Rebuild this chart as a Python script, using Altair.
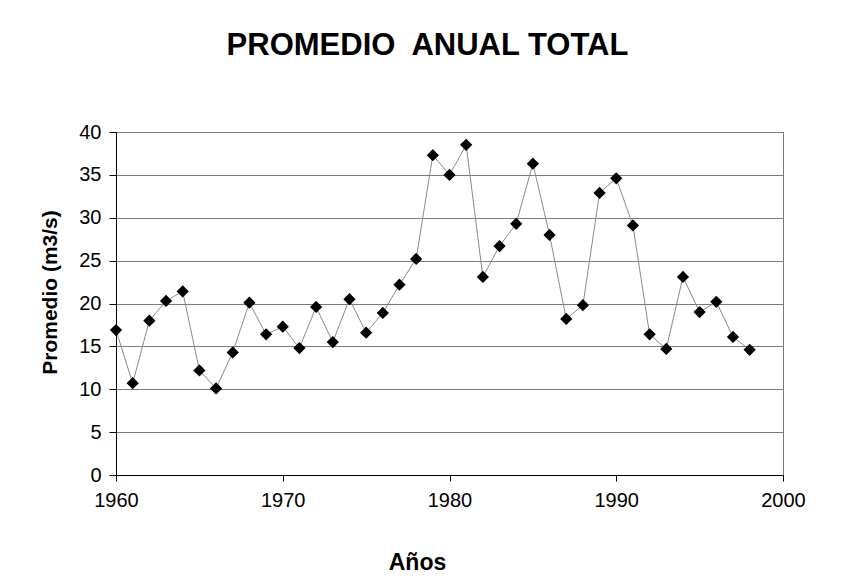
import altair as alt
import pandas as pd

years = list(range(1960, 1999))
promedio = [16.9, 10.7, 18.0, 20.3, 21.4, 12.2, 10.1, 14.3, 20.1, 16.4,
            17.3, 14.8, 19.6, 15.5, 20.5, 16.6, 18.9, 22.2, 25.2, 37.3,
            35.0, 38.5, 23.1, 26.7, 29.3, 36.3, 28.0, 18.2, 19.8, 32.9,
            34.6, 29.1, 16.4, 14.7, 23.1, 19.0, 20.2, 16.1, 14.6]
x_ticks = [1960, 1970, 1980, 1990, 2000]
y_ticks = [0, 5, 10, 15, 20, 25, 30, 35, 40]

df = pd.DataFrame({"Año": years, "Promedio": promedio})

FONT = "Liberation Sans"

x = alt.X("Año:Q",
          scale=alt.Scale(domain=[1960, 2000], nice=False, zero=False),
          axis=alt.Axis(values=x_ticks, format="d", title="Años",
                        grid=False, tickSize=6, labelPadding=9,
                        labelFlush=False, labelFontSize=20,
                        titleFontSize=23, titleBaseline="alphabetic",
                        titleX=301, titleY=94, titleAnchor="middle"))
y = alt.Y("Promedio:Q",
          scale=alt.Scale(domain=[0, 40], nice=False),
          axis=alt.Axis(values=y_ticks, title="Promedio (m3/s)",
                        tickSize=7, labelPadding=8, labelFontSize=20,
                        titleFontSize=21,
                        titleX=-56, titleY=160, titleAnchor="middle",
                        gridColor="#7a7a7a", gridWidth=1))

base = alt.Chart(df)
line = base.mark_line(color="#8a8a8a", strokeWidth=1).encode(x=x, y=y)
pts = base.mark_point(shape="diamond", filled=True, color="black",
                      size=150, opacity=1).encode(x=x, y=y)

chart = (line + pts).properties(
    width=667, height=343,
    padding={"left": 108, "top": 124, "right": 50, "bottom": 100},
    autosize=alt.AutoSizeParams(type="none"),
    background="white",
    title=alt.TitleParams("PROMEDIO\u00a0 ANUAL TOTAL", font=FONT, fontSize=31,
                          fontWeight="bold", color="black", anchor="middle",
                          dx=-22, offset=60),
).configure_view(stroke="#7a7a7a", strokeWidth=1).configure_axis(
    labelFont=FONT, labelColor="black",
    titleFont=FONT, titleFontWeight="bold", titleColor="black",
    domainColor="black", tickColor="black", domainWidth=1,
)

chart.save("out.html", embed_options={"renderer": "svg", "actions": False})
